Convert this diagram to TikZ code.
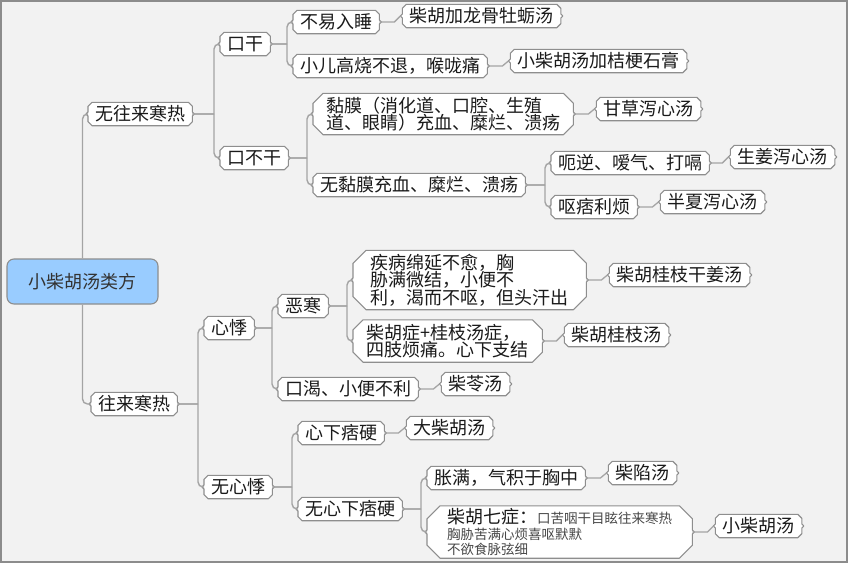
\documentclass[tikz,border=0pt]{standalone}
\usepackage{fontspec}
\newfontfamily\cjk{Noto Sans CJK SC}
\usetikzlibrary{calc}
\pgfdeclarelayer{background}
\pgfsetlayers{background,main}
\definecolor{bg}{HTML}{F2F2F2}
\definecolor{framecol}{HTML}{8C8C8C}
\definecolor{edge}{HTML}{A4A4A4}
\definecolor{boxline}{HTML}{8E8E8E}
\definecolor{rootfill}{HTML}{99CCFF}
\definecolor{txt}{HTML}{1A1A1A}
\newcommand\octbox[2]{%
 \begin{pgfonlayer}{background}
 \filldraw[boxframe] ([xshift=#2]#1.north west) -- ([xshift=-#2]#1.north east) -- ([yshift=-#2]#1.north east) -- ([yshift=2pt]#1.east) -- ([xshift=2pt]#1.east) -- ([yshift=-2pt]#1.east) -- ([yshift=#2]#1.south east) -- ([xshift=-#2]#1.south east) -- ([xshift=#2]#1.south west) -- ([yshift=#2]#1.south west) -- ([yshift=-2pt]#1.west) -- ([xshift=-2pt]#1.west) -- ([yshift=2pt]#1.west) -- ([yshift=-#2]#1.north west) -- cycle;
 \end{pgfonlayer}}
\newcommand\brconn[2]{\draw[conn] let \p1=(#1.east), \p2=(#2.west) in (\p1) -- (\x2-6pt,\y1) (\x2-6pt,\y1) |- (\p2);}
\newcommand\leafconn[2]{\draw[lconn] let \p1=(#1.east), \p2=(#2.west) in (\p1) -- (\x2-8pt,\y1) -- ([xshift=-2pt]\p2);}
\begin{document}
\begin{tikzpicture}[x=1pt,y=-1pt,
 box/.style={anchor=west, font=\cjk\fontsize{18}{17.5}\selectfont, text=txt, inner xsep=7pt, inner ysep=2pt, minimum height=23pt, align=left},
 rootbox/.style={draw=boxline, fill=rootfill, rounded corners=7pt, minimum width=151pt, minimum height=45pt, font=\cjk\fontsize{18}{18}\selectfont, text=black!80, line width=1.1pt},
 conn/.style={draw=edge, line width=1.4pt, rounded corners=5pt},
 lconn/.style={draw=edge, line width=1.3pt},
 boxframe/.style={draw=boxline, line width=1.1pt, fill=white, line join=round}]
\begin{pgfonlayer}{background}
\fill[bg] (0,0) rectangle (848,563);
\draw[framecol, line width=2pt] (1,1) rectangle (847,562);
\end{pgfonlayer}
\useasboundingbox (0,0) rectangle (848,563);

\node[rootbox] (root) at (82.5,281.5) {小柴胡汤类方};

\node[box] (n1) at (88,114) {无往来寒热};
\node[box] (n2) at (91,404) {往来寒热};
\node[box] (a1) at (220,44) {口干};
\node[box] (a2) at (220,158) {口不干};
\node[box] (b1) at (293,22) {不易入睡};
\node[box] (b2) at (293,66) {小儿高烧不退，喉咙痛};
\node[box] (c1) at ($(b1.east)+(23,-6)$) {柴胡加龙骨牡蛎汤};
\node[box] (c2) at ($(b2.east)+(23,-5)$) {小柴胡汤加桔梗石膏};
\node[box, minimum width=260pt, minimum height=41pt] (b3) at (313,114) {黏膜（消化道、口腔、生殖\\道、眼睛）充血、糜烂、溃疡};
\node[box] (b4) at (313,185) {无黏膜充血、糜烂、溃疡};
\node[box] (c3) at ($(b3.east)+(23,-5)$) {甘草泻心汤};
\node[box] (d1) at (551,163) {呃逆、嗳气、打嗝};
\node[box] (d2) at (551,207) {呕痞利烦};
\node[box] (e1) at ($(d1.east)+(21,-6)$) {生姜泻心汤};
\node[box] (e2) at ($(d2.east)+(23,-5)$) {半夏泻心汤};

\node[box] (f1) at (204,328) {心悸};
\node[box] (f2) at (204,487) {无心悸};
\node[box] (g1) at (278,306) {恶寒};
\node[box] (g2) at (278,389) {口渴、小便不利};
\node[box, minimum width=233pt, minimum height=59pt] (h1) at (353,280) {疾病绵延不愈，胸\\胁满微结，小便不\\利，渴而不呕，但头汗出};
\node[box, minimum width=189pt, minimum height=42pt] (h2) at (353,341) {柴胡症+桂枝汤症，\\四肢烦痛。心下支结};
\node[box] (i1) at ($(h1.east)+(23,-5)$) {柴胡桂枝干姜汤};
\node[box] (i2) at ($(h2.east)+(22,-6)$) {柴胡桂枝汤};
\node[box] (i3) at ($(g2.east)+(23,-5)$) {柴苓汤};
\node[box] (g3) at (298,433) {心下痞硬};
\node[box] (g4) at (298,509) {无心下痞硬};
\node[box] (j1) at ($(g3.east)+(22,-5)$) {大柴胡汤};
\node[box] (k1) at (427,478) {胀满，气积于胸中};
\node[box, minimum width=265pt, minimum height=52pt, font=\cjk\fontsize{13.5}{15.5}\selectfont] (k2) at (427,532) {{\fontsize{18}{18}\selectfont 柴胡七症：}{\color{black!72}口苦咽干目眩往来寒热}\\{\color{black!72}胸胁苦满心烦喜呕默默}\\{\color{black!72}不欲食脉弦细}};
\node[box] (l1) at ($(k1.east)+(23,-5)$) {柴陷汤};
\node[box] (l2) at ($(k2.east)+(23,-6)$) {小柴胡汤};

\foreach \n/\c in {n1/4pt,n2/4pt,a1/4pt,a2/4pt,b1/4pt,b2/4pt,c1/4pt,c2/4pt,b3/10pt,b4/4pt,c3/4pt,d1/4pt,d2/4pt,e1/4pt,e2/4pt,f1/4pt,f2/4pt,g1/4pt,g2/4pt,h1/13pt,h2/10pt,i1/4pt,i2/4pt,i3/4pt,g3/4pt,g4/4pt,j1/4pt,k1/4pt,k2/13pt,l1/4pt,l2/4pt}{\octbox{\n}{\c}}

\draw[conn] (root.north) |- (n1.west);
\draw[conn] (root.south) |- (n2.west);
\brconn{n1}{a1}\brconn{n1}{a2}
\brconn{a1}{b1}\brconn{a1}{b2}
\brconn{a2}{b3}\brconn{a2}{b4}
\brconn{b4}{d1}\brconn{b4}{d2}
\brconn{n2}{f1}\brconn{n2}{f2}
\brconn{f1}{g1}\brconn{f1}{g2}
\brconn{g1}{h1}\brconn{g1}{h2}
\brconn{f2}{g3}\brconn{f2}{g4}
\brconn{g4}{k1}\brconn{g4}{k2}
\leafconn{b1}{c1}\leafconn{b2}{c2}\leafconn{b3}{c3}
\leafconn{d1}{e1}\leafconn{d2}{e2}
\leafconn{h1}{i1}\leafconn{h2}{i2}\leafconn{g2}{i3}
\leafconn{g3}{j1}\leafconn{k1}{l1}\leafconn{k2}{l2}
\end{tikzpicture}
\end{document}
